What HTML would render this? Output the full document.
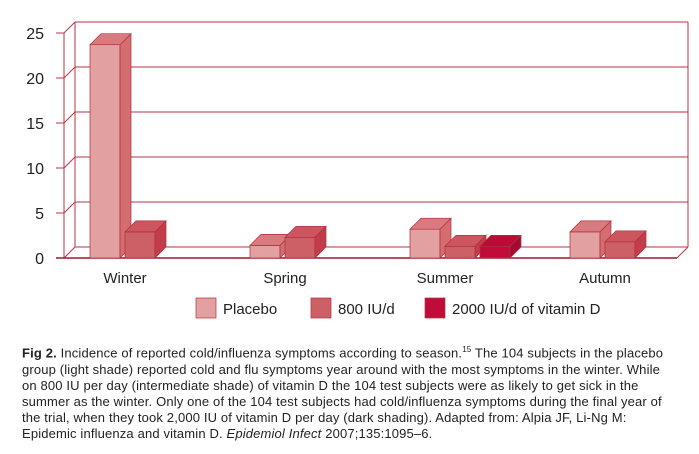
<!DOCTYPE html>
<html><head><meta charset="utf-8"><style>
body{margin:0;background:#fff;width:699px;height:454px;overflow:hidden;font-family:"Liberation Sans",sans-serif}
#cap{position:absolute;left:22px;top:342px;width:670px;font-size:13px;line-height:16.2px;color:#222;letter-spacing:0.15px;white-space:nowrap}
</style></head><body>
<svg id="chart" width="699" height="340" style="position:absolute;left:0;top:0"></svg>
<div id="cap"><b>Fig 2.</b> Incidence of reported cold/influenza symptoms according to season.<sup style="font-size:8px">15</sup> The 104 subjects in the placebo<br>group (light shade) reported cold and flu symptoms year around with the most symptoms in the winter. While<br>on 800 IU per day (intermediate shade) of vitamin D the 104 test subjects were as likely to get sick in the<br>summer as the winter. Only one of the 104 test subjects had cold/influenza symptoms during the final year of<br>the trial, when they took 2,000 IU of vitamin D per day (dark shading). Adapted from: Alpia JF, Li-Ng M:<br>Epidemic influenza and vitamin D. <i>Epidemiol Infect</i> 2007;135:1095–6.</div>
<script>
const categories=["Winter","Spring","Summer","Autumn"];
const placebo=[23.7,1.4,3.2,2.9];
const iu800=[2.9,2.3,1.3,1.8];
const iu2000=[0,0,1.3,0];
const yTicks=[0,5,10,15,20,25];
const seriesNames=["Placebo","800 IU/d","2000 IU/d of vitamin D"];
const NS="http://www.w3.org/2000/svg";
const svg=document.getElementById('chart');
function el(t,a,p){const e=document.createElementNS(NS,t);for(const k in a)e.setAttribute(k,a[k]);(p||svg).appendChild(e);return e;}
const y0=258,k=9,D=11,x0=64,xR=677;
const y=v=>y0-v*k;
const gx=i=>90+i*160;
const line="#bb3344";
for(const t of yTicks){
 const g=el('line',{x1:x0+D,y1:y(t)-D,x2:xR+D,y2:y(t)-D,stroke:line,'stroke-width':1});
 
 const d=el('line',{x1:x0-8,y1:y(t),x2:x0,y2:y(t),stroke:line});
 
 el('line',{x1:x0,y1:y(t),x2:x0+D,y2:y(t)-D,stroke:line});
 const tx=el('text',{x:x0-20,y:y(t)+6,'text-anchor':'end','font-size':16,fill:'#222'});tx.textContent=t;
 
}
const yt=y(25);
el('line',{x1:x0+D,y1:yt-D,x2:x0+D,y2:y0-D,stroke:line});
el('line',{x1:x0,y1:yt,x2:x0,y2:y0,stroke:line});
el('line',{x1:xR+D,y1:yt-D,x2:xR+D,y2:y0-D,stroke:line});
el('line',{x1:xR,y1:y0,x2:xR+D,y2:y0-D,stroke:line});
el('line',{x1:x0-8,y1:y0,x2:xR,y2:y0,stroke:'#9a1a2a','stroke-width':1.5});
const cols=[["#e3a0a0","#d46c70","#d97a7e"],["#cd5f66","#c23c4c","#cc5560"],["#c10c3a","#a30a30","#b80c36"]];
const series=[placebo,iu800,iu2000];
categories.forEach((c,i)=>{
 const lb=el('text',{x:gx(i)+35,y:283,'text-anchor':'middle','font-size':15,fill:'#222'});lb.textContent=c;
 
 series.forEach((s,j)=>{
  const v=s[i];if(!v)return;
  const x=gx(i)+j*35,w=30,top=y(v);
  const g=el('g',{});
  
  el('rect',{x:x,y:top,width:w,height:y0-top,fill:cols[j][0],stroke:'#b0303c','stroke-width':0.7},g);
  el('polygon',{points:`${x+w},${top} ${x+w+D},${top-D} ${x+w+D},${y0-D} ${x+w},${y0}`,fill:cols[j][1],stroke:'#b0303c','stroke-width':0.7},g);
  el('polygon',{points:`${x},${top} ${x+D},${top-D} ${x+w+D},${top-D} ${x+w},${top}`,fill:cols[j][2],stroke:'#b0303c','stroke-width':0.7},g);
 });
});
const lx=[196,311,425];
seriesNames.forEach((n,j)=>{
 const g=el('g',{});
 
 el('rect',{x:lx[j],y:298,width:20,height:20,fill:cols[j][0],stroke:'#b0303c','stroke-width':0.7},g);
 const t=el('text',{x:lx[j]+27,y:314,'font-size':15,fill:'#222'},g);t.textContent=n;
});
</script>
</body></html>
